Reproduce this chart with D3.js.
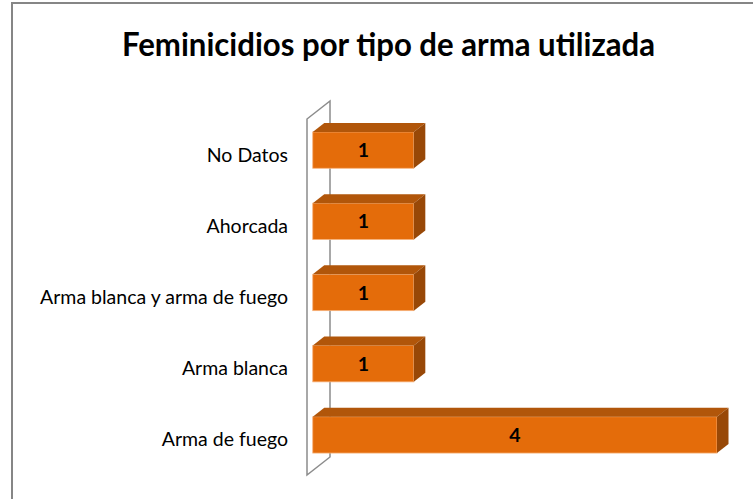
<!DOCTYPE html>
<html>
<head>
<meta charset="utf-8">
<script src="https://cdn.jsdelivr.net/npm/d3@7"></script>
<style>
  body { margin: 0; background: #fff; }
  svg { display: block; }
</style>
</head>
<body>
<script>
// data
const categories = ["No Datos", "Ahorcada", "Arma blanca y arma de fuego", "Arma blanca", "Arma de fuego"]
const values = [1, 1, 1, 1, 4]
const title = "Feminicidios por tipo de arma utilizada"

const w = 753
const h = 499

// 3d depth of the wall and of the bars
const depth = [23, -18]
const barFrom = 0.25
const barTo = 0.75

const svg = d3.select("body")
              .append("svg")
              .attr("width", w)
              .attr("height", h)

// chart border
svg.append("rect")
   .attr("x", 12)
   .attr("y", 3)
   .attr("width", 800)
   .attr("height", 600)
   .attr("fill", "none")
   .attr("stroke", "#868686")
   .attr("stroke-width", 2)

svg.append("text")
   .attr("x", 388.5)
   .attr("y", 56)
   .attr("text-anchor", "middle")
   .attr("font-family", "Lato, 'Open Sans', sans-serif")
   .attr("font-weight", "bold")
   .attr("font-size", 32)
   .attr("textLength", 533)
   .attr("lengthAdjust", "spacingAndGlyphs")
   .attr("fill", "#000")
   .text(title)

const x = d3.scaleLinear()
            .domain([0, 4])
            .range([307, 711.25])

const y = d3.scaleBand()
            .domain(categories)
            .range([119, 475])
            .paddingInner(0.49)
            .paddingOuter(0.245)

// back wall
const x0 = x(0)
const wall = [
    [x0, y.range()[0]],
    [x0 + depth[0], y.range()[0] + depth[1]],
    [x0 + depth[0], y.range()[1] + depth[1]],
    [x0, y.range()[1]]
]
svg.append("path")
   .attr("d", "M" + wall.map(p => p.join(",")).join("L") + "Z")
   .attr("fill", "none")
   .attr("stroke", "#8c8c8c")
   .attr("stroke-width", 1.5)

// category labels
svg.selectAll(".cat")
   .data(categories)
   .enter()
   .append("text")
   .attr("class", "cat")
   .attr("x", 288)
   .attr("y", (d) => y(d) + y.bandwidth() / 2)
   .attr("dy", "0.36em")
   .attr("text-anchor", "end")
   .attr("font-family", "Lato, 'Open Sans', sans-serif")
   .attr("font-size", 19.5)
   .attr("fill", "#000")
   .text((d) => d)

const dx = (t) => depth[0] * t
const dy = (t) => depth[1] * t

const bars = svg.selectAll(".bar")
                .data(categories.map((c, i) => ({cat: c, value: values[i]})))
                .enter()
                .append("g")
                .attr("class", "bar")

// front face
bars.append("rect")
    .attr("x", (d) => x(0) + dx(barFrom))
    .attr("y", (d) => y(d.cat) + dy(barFrom))
    .attr("width", (d) => x(d.value) - x(0))
    .attr("height", y.bandwidth())
    .attr("fill", "#e46c0a")
    .attr("stroke", "#f7b27a")
    .attr("stroke-width", 0.8)

// top face
bars.append("path")
    .attr("d", (d) => {
        const xa = x(0) + dx(barFrom), ya = y(d.cat) + dy(barFrom)
        const xb = x(d.value) + dx(barFrom)
        const t = barTo - barFrom
        return "M" + xa + "," + ya + "L" + (xa + dx(t)) + "," + (ya + dy(t)) +
               "L" + (xb + dx(t)) + "," + (ya + dy(t)) + "L" + xb + "," + ya + "Z"
    })
    .attr("fill", "#b1560a")

// side face
bars.append("path")
    .attr("d", (d) => {
        const xb = x(d.value) + dx(barFrom), ya = y(d.cat) + dy(barFrom)
        const yb = ya + y.bandwidth()
        const t = barTo - barFrom
        return "M" + xb + "," + ya + "L" + (xb + dx(t)) + "," + (ya + dy(t)) +
               "L" + (xb + dx(t)) + "," + (yb + dy(t)) + "L" + xb + "," + yb + "Z"
    })
    .attr("fill", "#984807")

// value labels
bars.append("text")
    .attr("x", (d) => (x(0) + x(d.value)) / 2 + dx(barFrom))
    .attr("y", (d) => y(d.cat) + dy(barFrom) + y.bandwidth() / 2)
    .attr("dy", "0.36em")
    .attr("text-anchor", "middle")
    .attr("font-family", "Lato, 'Open Sans', sans-serif")
    .attr("font-weight", "bold")
    .attr("font-size", 19.5)
    .attr("fill", "#000")
    .text((d) => d.value)
</script>
</body>
</html>
